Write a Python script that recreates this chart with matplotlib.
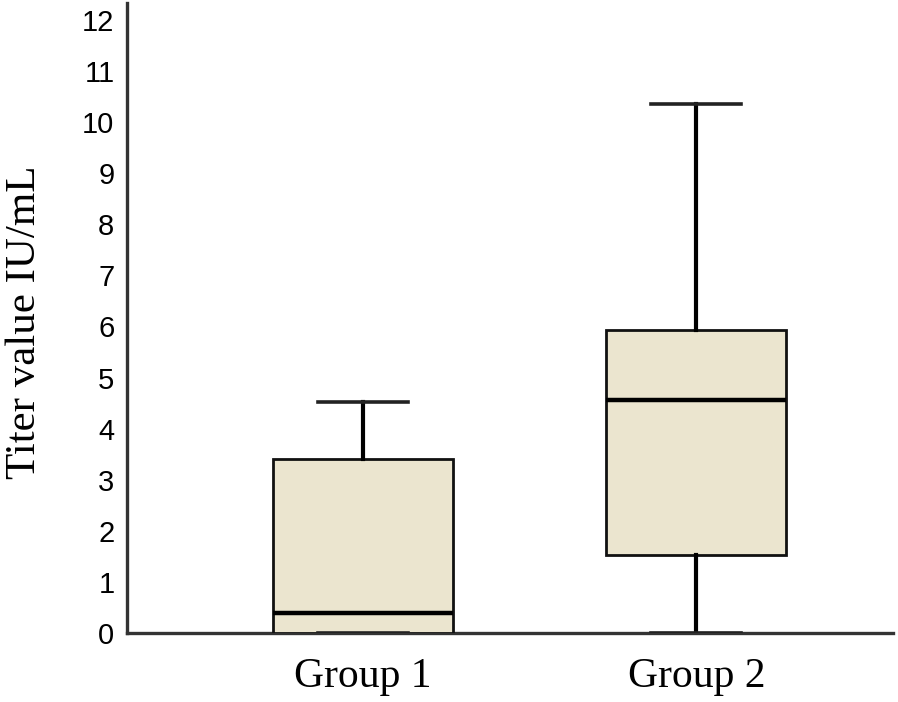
import matplotlib
matplotlib.use('Agg')
from matplotlib import pyplot as plt

groups = ['Group 1', 'Group 2']
whisker_low = [0.0, 0.0]
q1 = [0.0, 1.53]
median = [0.39, 4.56]
q3 = [3.41, 5.93]
whisker_high = [4.52, 10.36]
y_ticks = list(range(0, 13))

fig = plt.figure(figsize=(8.98, 7.02), dpi=100)
ax = fig.add_axes([0.1414, 0.0983, 0.8530, 0.8974])

stats = []
for name, lo, a, m, b, hi in zip(groups, whisker_low, q1, median, q3, whisker_high):
    stats.append({'label': name, 'whislo': lo, 'q1': a, 'med': m,
                  'q3': b, 'whishi': hi, 'fliers': []})

ax.bxp(
    stats, positions=[1, 2], widths=0.54, patch_artist=True,
    showfliers=False,
    boxprops=dict(facecolor='#ebe5cf', edgecolor='#111111', linewidth=2.0),
    medianprops=dict(color='#000000', linewidth=3.2),
    whiskerprops=dict(color='#000000', linewidth=3.0),
    capprops=dict(color='#222222', linewidth=2.6),
    capwidths=0.27,
)

ax.set_xlim(0.291, 2.59)
ax.set_ylim(0, 12.33)
ax.set_yticks(y_ticks)
ax.set_yticklabels([str(t) for t in y_ticks], family='Liberation Sans', fontsize=21)
ax.set_xticks([1, 2])
ax.set_xticklabels(groups, family='Liberation Serif', fontsize=30)
ax.tick_params(axis='y', length=0, pad=9)
ax.tick_params(axis='x', length=0, pad=18)

for side in ['top', 'right']:
    ax.spines[side].set_visible(False)
for side in ['left', 'bottom']:
    ax.spines[side].set_linewidth(2.4)
    ax.spines[side].set_color('#333333')
    ax.spines[side].set_zorder(1)

ax.set_ylabel('Titer value IU/mL', family='Liberation Serif', fontsize=31)
ax.yaxis.set_label_coords(-0.108, 0.494)

fig.savefig('out.png', dpi=100)
